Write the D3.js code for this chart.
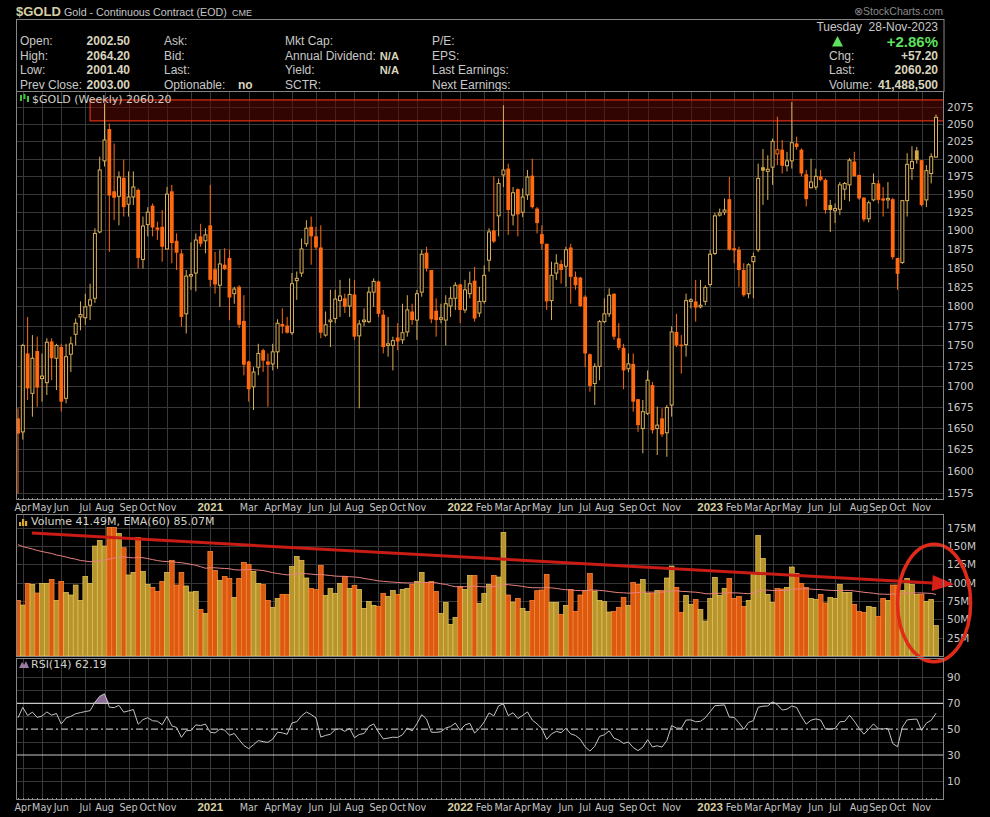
<!DOCTYPE html>
<html>
<head>
<meta charset="utf-8">
<script src="https://cdnjs.cloudflare.com/ajax/libs/d3/7.8.5/d3.min.js"></script>
<style>
body{margin:0;background:#000;}
svg{display:block;}
</style>
</head>
<body>
<svg id="chart" width="990" height="817"></svg>
<script>
// weekly bars, first bar is the week of this monday
var firstWeek = "2020-03-30";

var opens = [1661,1645,1740,1691,1743,1709,1704,1755,1734,1748,1685,1739,1764,1786,1785,1801,1810,1898,1997,2043,
1954,1947,1973,1936,1946,1956,1861,1908,1934,1904,1905,1875,1954,1886,1869,1790,1839,1843,1892,1886,
1907,1848,1827,1854,1863,1816,1825,1781,1730,1699,1723,1744,1730,1727,1742,1777,1775,1766,1833,1843,
1882,1905,1892,1877,1763,1780,1784,1807,1810,1800,1815,1762,1780,1780,1818,1832,1789,1750,1750,1760,
1757,1767,1793,1782,1818,1870,1847,1794,1783,1782,1800,1810,1828,1795,1816,1833,1791,1806,1860,1900,
1920,1977,1986,1921,1957,1925,1949,1976,1930,1895,1882,1807,1843,1855,1852,1877,1838,1837,1812,1739,
1703,1724,1780,1790,1816,1759,1747,1721,1727,1684,1649,1667,1701,1649,1661,1644,1677,1767,1751,1751,
1806,1806,1799,1806,1828,1869,1921,1925,1943,1876,1874,1847,1816,1858,1874,1988,1982,1988,2007,2013,
1990,1997,2022,2013,1978,1959,1960,1975,1970,1935,1927,1929,1957,1963,1996,1977,1945,1916,1942,1965,
1944,1942,1943,1863,1857,1941,1986,2012,1998,1942,1979,2002.5];
var highs = [1673,1752,1786,1763,1761,1740,1759,1759,1752,1752,1752,1761,1784,1806,1816,1829,1903,2003,2081,2051,
2022,1982,1999,1982,1982,1958,1919,1932,1937,1912,1928,1960,1963,1896,1874,1847,1884,1896,1909,1903,
1963,1871,1874,1876,1874,1825,1827,1814,1731,1723,1752,1746,1740,1752,1783,1797,1786,1843,1845,1889,
1914,1919,1905,1907,1793,1821,1821,1834,1816,1836,1834,1782,1797,1825,1836,1833,1795,1786,1761,1778,
1803,1814,1803,1821,1874,1878,1847,1810,1803,1814,1825,1831,1829,1834,1845,1851,1825,1853,1903,1975,
1972,2078,1993,1960,1958,1958,1984,2000,1932,1907,1882,1858,1868,1860,1878,1882,1845,1838,1814,1740,
1728,1782,1810,1823,1816,1778,1752,1740,1740,1684,1683,1719,1705,1675,1673,1677,1774,1790,1763,1816,
1810,1834,1834,1827,1874,1924,1930,1944,1974,1900,1878,1856,1856,1870,1993,2014,2005,2029,2061,2027,
2010,2083,2032,2015,1984,2000,1986,1984,1972,1942,1937,1967,1967,2001,2010,1977,1946,1941,1979,1970,
1960,1967,1945,1863,1942,2008,2018,2017,1998,1991,2008,2064.2];
var lows = [1574,1636,1683,1663,1675,1681,1689,1707,1695,1669,1679,1717,1750,1769,1776,1782,1804,1896,1989,1871,
1914,1907,1919,1919,1935,1849,1849,1892,1892,1887,1858,1874,1856,1847,1774,1765,1821,1819,1878,1869,
1825,1816,1799,1847,1782,1803,1772,1713,1681,1671,1713,1717,1675,1719,1721,1765,1765,1763,1808,1838,
1878,1854,1874,1759,1761,1748,1778,1786,1791,1786,1757,1673,1774,1778,1799,1786,1740,1736,1719,1744,
1752,1761,1776,1757,1812,1845,1778,1761,1778,1750,1786,1795,1778,1791,1810,1780,1786,1803,1845,1883,
1892,1960,1894,1907,1892,1918,1942,1930,1896,1874,1795,1782,1834,1829,1825,1803,1821,1799,1723,1693,
1677,1707,1778,1786,1757,1744,1696,1717,1669,1645,1620,1665,1643,1618,1639,1616,1663,1748,1715,1736,
1797,1780,1797,1801,1825,1867,1919,1921,1873,1856,1825,1812,1810,1810,1871,1935,1942,1963,1991,1979,
1982,1986,2013,1975,1933,1958,1956,1968,1923,1898,1910,1921,1942,1940,1975,1942,1912,1911,1940,1937,
1919,1930,1861,1821,1855,1919,1970,1993,1933,1932,1965,2001.4];
var closes = [1643,1750,1697,1734,1698,1712,1754,1734,1750,1681,1736,1752,1778,1789,1799,1808,1896,1984,2027,1948,
1945,1974,1932,1946,1960,1863,1906,1925,1904,1901,1878,1950,1883,1870,1786,1839,1841,1887,1882,1894,
1834,1828,1855,1848,1811,1822,1776,1726,1696,1717,1740,1731,1726,1742,1778,1774,1766,1829,1836,1875,
1903,1892,1877,1766,1776,1782,1809,1813,1799,1815,1761,1777,1782,1818,1832,1790,1748,1752,1756,1755,
1766,1795,1782,1816,1868,1849,1783,1782,1785,1803,1810,1827,1795,1821,1829,1784,1806,1840,1898,1885,
1965,1984,1928,1952,1922,1946,1974,1932,1910,1882,1806,1840,1856,1847,1874,1838,1827,1800,1740,1700,
1724,1780,1790,1814,1761,1747,1719,1727,1681,1653,1669,1707,1647,1653,1642,1674,1767,1750,1749,1807,
1808,1798,1801,1824,1868,1920,1924,1928,1874,1873,1847,1814,1854,1865,1972,1983,1985,2025,2013,1990,
1997,2023,2017,1979,1943,1967,1975,1970,1928,1928,1930,1963,1965,1998,1975,1944,1915,1938,1965,1942,
1941,1944,1864,1842,1941,1992,1996,1998,1935,1983,2003,2060.2];
// weekly volume, millions of contracts
var volumes = [75.9,69.5,99.1,97.7,85.9,99.1,99.1,104.5,75.9,101.8,86.8,83.2,96.8,75.9,108.6,99.1,150,157.7,150,175.5,
175.5,167.3,147.7,110.5,114.1,161.8,115.5,97.7,93.6,88.2,101.8,114.1,130.5,96.8,114.1,95.5,87.3,88.2,63.6,58.2,
142.7,116.8,103.2,108.6,105.9,80,105.9,127.7,125,115.5,99.1,97.7,75.9,66.4,78.6,84.1,84.1,122.3,135.9,130.5,
106.4,92.3,90.5,123.6,82.7,92.3,85.5,99.1,108.2,92.3,96.4,90.9,65,74.5,69.1,67.7,85.5,81.4,89.5,84.1,
90.9,92.3,97.7,101.8,114.1,100.5,101.8,88.2,58.2,73.2,43.2,52.7,95,90.9,110,110,71.8,85.5,97.7,110,
107.7,168.6,83.2,73.6,78.6,65,60.9,75.9,89.1,90,111.4,73.2,73.2,56.8,69.1,90.5,60.9,83.2,89.1,112.7,
88.6,75.9,74.1,60,60.9,66.4,80,69.1,100.5,97.7,104.5,85.5,85.5,89.5,89.1,106.4,122.7,93.6,59.5,82.7,
70.5,77.3,63.6,47.7,78.6,107.3,82.7,92.3,105.9,78.6,81.4,67.7,75.9,114.1,164.5,133.2,84.1,73.2,92.3,91.4,
93.6,121.4,112.7,99.1,93.6,78.6,77.3,84.1,72.3,80,78.6,97.7,86.8,86.8,70.5,60.9,59.5,67.7,66.4,54.1,
78.6,75.9,96.8,96.8,89.5,105.9,97.7,84.1,84.5,74.5,77.3,41.49];

var priceTicks = d3.range(1575, 2076, 25);
var volumeTicks = [25, 50, 75, 100, 125, 150, 175];
var rsiTicks = [10, 30, 50, 70, 90];
var rsiGrid = [10, 20, 40, 60, 80, 90];

// indicator state carried in from before the first visible bar
var emaSeed = 154.5;
var rsiSeedGain = 20, rsiSeedLoss = 14;

// header quote
var quoteLabels = [["Open:", "High:", "Low:", "Prev Close:"],
                   ["Ask:", "Bid:", "Last:", "Optionable:"],
                   ["Mkt Cap:", "Annual Dividend:", "Yield:", "SCTR:"],
                   ["P/E:", "EPS:", "Last Earnings:", "Next Earnings:"]];
var quoteValues = ["2002.50", "2064.20", "2001.40", "2003.00"];

// hand drawn marks on the picture, in data units (bar index, price / volume)
var boxBars = [15, 192.9], boxPrices = [2055, 2086];
var trendStart = [2.9, 167.7], trendEnd = [194.8, 97.8];
var ringCenter = [190.6, 72.3], ringRadius = [7.6, 80];

var n = closes.length;
var start = d3.timeParse("%Y-%m-%d")(firstWeek);
var dates = d3.range(n).map(function(i){ return d3.timeMonday.offset(start, i); });

var svg = d3.select("#chart");
var L = 16, R = 944;
var pTop = 91, pBot = 500, vTop = 514, vBot = 657, rTop = 658, rBot = 800;

var x = d3.scaleLinear().domain([0, n - 1]).range([18, 936]);
var yP = d3.scaleLog().domain([1575, 2075]).range([492.7, 107.3]);
var yV = d3.scaleLinear().domain([0, 175]).range([656, 527.7]);
var yR = d3.scaleLinear().domain([0, 100]).range([793.8, 664.5]);

var orange = "#ff6a10", tan = "#d9b05a", goldFill = "#d8aa3c";
var gridCol = "#383838", borderCol = "#858585";
var axisFont = "'DejaVu Sans', Verdana, sans-serif";
var hdrFont = "'Liberation Sans', Arial, sans-serif";

svg.append("rect").attr("width", 990).attr("height", 817).attr("fill", "#000");

// clip paths
var defs = svg.append("defs");
[["cp", pTop, pBot], ["cv", vTop, vBot], ["cr", rTop, rBot]].forEach(function(c){
  defs.append("clipPath").attr("id", c[0]).append("rect")
    .attr("x", L).attr("y", c[1]).attr("width", R - L).attr("height", c[2] - c[1]);
});

// month / year ticks at the first bar of each month
var ticks = [];
for (var i = 1; i < n; i++) {
  if (dates[i].getMonth() != dates[i - 1].getMonth()) {
    ticks.push({i: i, year: dates[i].getMonth() == 0, d: dates[i]});
  }
}
var yearTicks = ticks.filter(function(t){ return t.year; });
var labelTicks = ticks.filter(function(t){
  if (t.year) return true;
  return yearTicks.every(function(y){ return Math.abs(x(y.i) - x(t.i)) > 22; });
});

function panelGrid(top, bot, hvals, yscale, clip) {
  var g = svg.append("g").attr("clip-path", "url(#" + clip + ")");
  g.selectAll(".vg").data(ticks).enter().append("line")
    .attr("x1", function(t){ return Math.round(x(t.i)) + 0.5; })
    .attr("x2", function(t){ return Math.round(x(t.i)) + 0.5; })
    .attr("y1", top).attr("y2", bot)
    .attr("stroke", gridCol).attr("stroke-width", 1);
  g.selectAll(".hg").data(hvals).enter().append("line")
    .attr("x1", L).attr("x2", R)
    .attr("y1", function(v){ return Math.round(yscale(v)) + 0.5; })
    .attr("y2", function(v){ return Math.round(yscale(v)) + 0.5; })
    .attr("stroke", gridCol).attr("stroke-width", 1);
}
panelGrid(pTop, pBot, priceTicks, yP, "cp");
panelGrid(vTop, vBot, volumeTicks, yV, "cv");
panelGrid(rTop, rBot, rsiGrid, yR, "cr");

// ---------- header ----------
svg.append("text").attr("x", 16).attr("y", 16).attr("font-family", hdrFont)
  .attr("font-size", 13).attr("font-weight", "bold").attr("fill", "#d6cfa4").text("$GOLD");
svg.append("text").attr("x", 64).attr("y", 16).attr("font-family", hdrFont)
  .attr("font-size", 10.7).attr("fill", "#c4c4c4").text("Gold - Continuous Contract (EOD)");
svg.append("text").attr("x", 232).attr("y", 16).attr("font-family", hdrFont)
  .attr("font-size", 9).attr("fill", "#c4c4c4").text("CME");
svg.append("text").attr("x", 943).attr("y", 15).attr("text-anchor", "end").attr("font-family", hdrFont)
  .attr("font-size", 10.5).attr("fill", "#8a8a8a").text("\u2297StockCharts.com");

svg.append("rect").attr("x", 16.5).attr("y", 19.5).attr("width", R - 16.5).attr("height", 72)
  .attr("fill", "none").attr("stroke", borderCol);

var rowY = [45, 59.5, 74, 88.5];
var colX = [20, 164, 285, 432];
var hdr = svg.append("g").attr("font-family", hdrFont).attr("font-size", 12);
quoteLabels.forEach(function(col, c){
  col.forEach(function(lab, r){
    hdr.append("text").attr("x", colX[c]).attr("y", rowY[r]).attr("fill", "#c8c8c8").text(lab);
  });
});
quoteValues.forEach(function(v, r){
  hdr.append("text").attr("x", 130).attr("y", rowY[r]).attr("text-anchor", "end")
    .attr("font-weight", "bold").attr("fill", "#d8d4bc").text(v);
});
hdr.append("text").attr("x", 238).attr("y", rowY[3]).attr("font-weight", "bold").attr("fill", "#d8d4bc").text("no");
[1, 2].forEach(function(r){
  hdr.append("text").attr("x", 399).attr("y", rowY[r]).attr("text-anchor", "end")
    .attr("font-size", 11.2).attr("font-weight", "bold").attr("fill", "#d8d4bc").text("N/A");
});
hdr.append("text").attr("x", 938).attr("y", 30.5).attr("text-anchor", "end").attr("fill", "#c8c8c8")
  .attr("xml:space", "preserve").text("Tuesday  28-Nov-2023");
hdr.append("path").attr("d", "M832,46.5L843,46.5L837.5,36Z").attr("fill", "#5fe05f");
hdr.append("text").attr("x", 938).attr("y", 46.5).attr("text-anchor", "end").attr("font-size", 15)
  .attr("font-weight", "bold").attr("fill", "#5fe05f").text("+2.86%");
[["Chg:", "+57.20"], ["Last:", "2060.20"], ["Volume:", "41,488,500"]].forEach(function(p, k){
  hdr.append("text").attr("x", 829).attr("y", rowY[k + 1]).attr("fill", "#c8c8c8").text(p[0]);
  hdr.append("text").attr("x", 938).attr("y", rowY[k + 1]).attr("text-anchor", "end")
    .attr("font-weight", "bold").attr("fill", "#d8d4bc").text(p[1]);
});

// ---------- price panel ----------
var pg = svg.append("g").attr("clip-path", "url(#cp)");

// resistance box
pg.append("rect")
  .attr("x", x(boxBars[0])).attr("width", x(boxBars[1]) - x(boxBars[0]))
  .attr("y", yP(boxPrices[1])).attr("height", yP(boxPrices[0]) - yP(boxPrices[1]))
  .attr("fill", "#5a0a02").attr("fill-opacity", 0.55)
  .attr("stroke", "#d22c12").attr("stroke-width", 1.3);

var bars = d3.range(n).map(function(i){
  var ref = i == 0 ? opens[0] : closes[i - 1];
  return {i: i, o: opens[i], h: highs[i], l: lows[i], c: closes[i],
          up: closes[i] >= ref, hollow: closes[i] >= opens[i]};
});
function barColor(b){ return b.up ? tan : orange; }

pg.selectAll(".wick").data(bars).enter().append("line")
  .attr("x1", function(b){ return x(b.i); }).attr("x2", function(b){ return x(b.i); })
  .attr("y1", function(b){ return yP(b.h); }).attr("y2", function(b){ return yP(b.l); })
  .attr("stroke", barColor).attr("stroke-width", 1);

pg.selectAll(".body").data(bars).enter().append("rect")
  .attr("x", function(b){ return x(b.i) - (b.hollow ? 1.5 : 1.9); })
  .attr("width", function(b){ return b.hollow ? 3 : 3.8; })
  .attr("y", function(b){ return yP(Math.max(b.o, b.c)); })
  .attr("height", function(b){ return Math.max(1, yP(Math.min(b.o, b.c)) - yP(Math.max(b.o, b.c))); })
  .attr("fill", function(b){ return b.hollow ? "#000" : (b.up ? goldFill : orange); })
  .attr("stroke", function(b){ return b.hollow ? barColor(b) : "none"; })
  .attr("stroke-width", 1);

// price axis
svg.append("g").selectAll("text").data(priceTicks).enter().append("text")
  .attr("x", 947).attr("y", function(v){ return yP(v) + 4; })
  .attr("font-family", axisFont).attr("font-size", 10.5).attr("fill", "#c8c8c8")
  .text(function(v){ return v; });

// legend
var lg = svg.append("g");
lg.append("rect").attr("x", 20).attr("y", 95).attr("width", 2).attr("height", 6).attr("fill", "#3ec43e");
lg.append("rect").attr("x", 23.5).attr("y", 94).attr("width", 2).attr("height", 5).attr("fill", "#3ec43e");
lg.append("rect").attr("x", 27).attr("y", 96).attr("width", 2).attr("height", 6).attr("fill", "#3ec43e");
lg.append("text").attr("x", 32).attr("y", 102.5).attr("font-family", axisFont).attr("font-size", 11)
  .attr("fill", "#d2d2ca").text("$GOLD (Weekly) 2060.20");

// ---------- volume panel ----------
var vg = svg.append("g").attr("clip-path", "url(#cv)");
var bw = x(1) - x(0);
vg.selectAll(".vb").data(bars).enter().append("rect")
  .attr("x", function(b){ return x(b.i) - bw / 2; })
  .attr("width", bw)
  .attr("y", function(b){ return yV(volumes[b.i]); })
  .attr("height", function(b){ return yV(0) - yV(volumes[b.i]); })
  .attr("fill", function(b){ return b.up ? "#b8952c" : "#dc5a10"; })
  .attr("stroke", function(b){ return b.up ? "#e6c65e" : "#ff8a3c"; })
  .attr("stroke-width", 0.7);

var ema = [], e = emaSeed, k = 2 / 61;
volumes.forEach(function(v){ e = e + k * (v - e); ema.push(e); });
vg.append("path").datum(ema)
  .attr("d", d3.line().x(function(d, i){ return x(i); }).y(function(d){ return yV(d); }))
  .attr("fill", "none").attr("stroke", "#e88080").attr("stroke-width", 1);

svg.append("g").selectAll("text").data(volumeTicks).enter().append("text")
  .attr("x", 947).attr("y", function(v){ return yV(v) + 4; })
  .attr("font-family", axisFont).attr("font-size", 10.5).attr("fill", "#c8c8c8")
  .text(function(v){ return v + "M"; });

var vl = svg.append("g");
[[19, 4], [22, 7], [25, 5]].forEach(function(b){
  vl.append("rect").attr("x", b[0]).attr("y", 526 - b[1]).attr("width", 2.2).attr("height", b[1]).attr("fill", "#d8a830");
});
vl.append("text").attr("x", 31).attr("y", 525).attr("font-family", axisFont).attr("font-size", 11)
  .attr("fill", "#d2d2ca").text("Volume 41.49M, EMA(60) 85.07M");

// trend line, arrow and ring
var ann = svg.append("g");
var p0 = [x(trendStart[0]), yV(trendStart[1])], p1 = [x(trendEnd[0]), yV(trendEnd[1])];
var ang = Math.atan2(p1[1] - p0[1], p1[0] - p0[0]);
var headLen = 22, headW = 8;
var base = [p1[0] - headLen * Math.cos(ang), p1[1] - headLen * Math.sin(ang)];
ann.append("line").attr("x1", p0[0]).attr("y1", p0[1]).attr("x2", base[0]).attr("y2", base[1])
  .attr("stroke", "#c81c14").attr("stroke-width", 3);
ann.append("path").attr("d", "M" + p1[0] + "," + p1[1] +
    "L" + (base[0] + headW * Math.sin(ang)) + "," + (base[1] - headW * Math.cos(ang)) +
    "L" + (base[0] - headW * Math.sin(ang)) + "," + (base[1] + headW * Math.cos(ang)) + "Z")
  .attr("fill", "#d8201a");
ann.append("ellipse").attr("cx", x(ringCenter[0])).attr("cy", yV(ringCenter[1]))
  .attr("rx", x(ringRadius[0]) - x(0)).attr("ry", yV(0) - yV(ringRadius[1]))
  .attr("fill", "none").attr("stroke", "#e02a1a").attr("stroke-width", 3.5);

// ---------- RSI panel ----------
var rsi = [], ag = rsiSeedGain, al = rsiSeedLoss;
rsi.push(100 - 100 / (1 + ag / al));
for (var j = 1; j < n; j++) {
  var ch = closes[j] - closes[j - 1];
  ag = (ag * 13 + Math.max(ch, 0)) / 14;
  al = (al * 13 + Math.max(-ch, 0)) / 14;
  rsi.push(100 - 100 / (1 + ag / al));
}
var rg = svg.append("g").attr("clip-path", "url(#cr)");
rg.append("path").datum(rsi)
  .attr("d", d3.area().x(function(d, i){ return x(i); })
    .y0(yR(70)).y1(function(d){ return yR(Math.max(d, 70)); }))
  .attr("fill", "#8a6a92");
rg.append("path").datum(rsi)
  .attr("d", d3.area().x(function(d, i){ return x(i); })
    .y0(yR(30)).y1(function(d){ return yR(Math.min(d, 30)); }))
  .attr("fill", "#8a6a92");
[70, 30].forEach(function(v){
  rg.append("line").attr("x1", L).attr("x2", R).attr("y1", yR(v)).attr("y2", yR(v))
    .attr("stroke", "#c8c8c8").attr("stroke-width", 1.2);
});
rg.append("line").attr("x1", L).attr("x2", R).attr("y1", yR(50)).attr("y2", yR(50))
  .attr("stroke", "#b8b8b8").attr("stroke-width", 1.1).attr("stroke-dasharray", "7,3,2,3");
rg.append("path").datum(rsi)
  .attr("d", d3.line().x(function(d, i){ return x(i); }).y(function(d){ return yR(d); }))
  .attr("fill", "none").attr("stroke", "#c4c4c4").attr("stroke-width", 1);

svg.append("g").selectAll("text").data(rsiTicks).enter().append("text")
  .attr("x", 947).attr("y", function(v){ return yR(v) + 4; })
  .attr("font-family", axisFont).attr("font-size", 10.5).attr("fill", "#c8c8c8")
  .text(function(v){ return v; });
svg.append("path").attr("d", "M19,668L22,662L24,665L26,661L29,668Z").attr("fill", "#9a7aa2");
svg.append("text").attr("x", 31).attr("y", 668).attr("font-family", axisFont).attr("font-size", 11)
  .attr("fill", "#d2d2ca").text("RSI(14) 62.19");

// ---------- panel borders ----------
[[pTop, pBot], [vTop, vBot], [rTop, rBot]].forEach(function(p){
  svg.append("rect").attr("x", L + 0.5).attr("y", p[0] + 0.5)
    .attr("width", R - L - 1).attr("height", p[1] - p[0] - 1)
    .attr("fill", "none").attr("stroke", borderCol);
});
// weekly tick marks on the bottom edges
[pBot, rBot].forEach(function(yb){
  svg.append("g").selectAll("line").data(bars).enter().append("line")
    .attr("x1", function(b){ return Math.round(x(b.i)) + 0.5; })
    .attr("x2", function(b){ return Math.round(x(b.i)) + 0.5; })
    .attr("y1", yb - 2).attr("y2", yb).attr("stroke", "#9a9a9a");
});

// ---------- date labels ----------
[511, 811].forEach(function(yb){
  var g = svg.append("g");
  g.selectAll("text").data(labelTicks).enter().append("text")
    .attr("x", function(t){ return x(t.i); }).attr("y", yb)
    .attr("text-anchor", "middle")
    .attr("font-family", function(t){ return t.year ? hdrFont : axisFont; })
    .attr("font-size", function(t){ return t.year ? 11.5 : 9.6; })
    .attr("font-weight", function(t){ return t.year ? "bold" : "normal"; })
    .attr("fill", function(t){ return t.year ? "#d8d0a4" : "#c4c4c4"; })
    .text(function(t){ return t.year ? d3.timeFormat("%Y")(t.d) : d3.timeFormat("%b")(t.d); });
});
</script>
</body>
</html>
